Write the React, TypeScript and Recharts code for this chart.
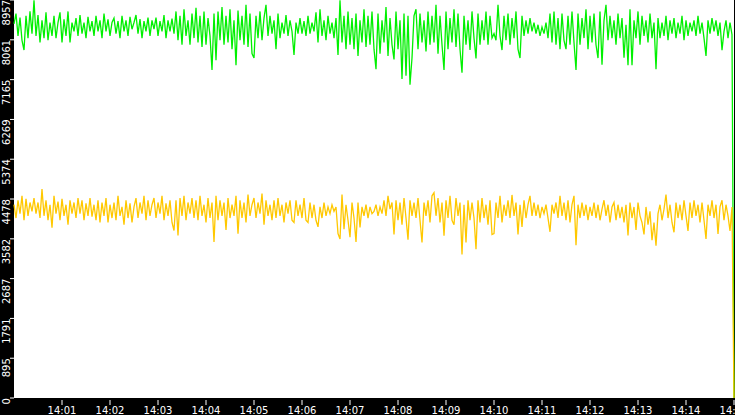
import React from "react";
import { LineChart, Line, XAxis, YAxis, CartesianGrid } from "recharts";

// sampling: one reading every 2.5 s from 14:00:00 to 14:15:00
const STEP_SECONDS = 2.5;

const greenSeries = [
  8420, 8650, 8150, 8560, 8050, 7830, 8600, 8100, 8700, 8200,
  8950, 8150, 8620, 8000, 8500, 8100, 8680, 8050, 8450, 8150,
  8600, 8100, 8450, 8680, 8000, 8520, 8150, 8700, 8000, 8450,
  8250, 8550, 8150, 8620, 8200, 8450, 8100, 8580, 8250, 8480,
  8150, 8600, 8250, 8500, 8100, 8650, 8250, 8520, 8150, 8450,
  8550, 8200, 8480, 8100, 8600, 8250, 8500, 8150, 8580, 8300,
  8450, 8620, 8200, 8530, 8100, 8480, 8250, 8560, 8150, 8500,
  8300, 8560, 8150, 8480, 8250, 8620, 8100, 8500, 8250, 8540,
  8200, 8700, 8050, 8600, 7950, 8750, 8150, 8500, 7950, 8650,
  8100, 8780, 8000, 8600, 7900, 8700, 7950, 8550, 8150, 7380,
  8650, 7600, 8700, 8050, 8800, 7950, 8600, 8000, 8750, 7850,
  8500, 7490, 8720, 8050, 8600, 7950, 8850, 7900, 8650, 7750,
  7650, 8600, 8100, 8700, 8050, 8550, 8850, 8150, 8600, 8200,
  8500, 7850, 8650, 8100, 8450, 8200, 8620, 8150, 8500, 8250,
  7720, 8450, 8200, 8550, 8200, 8480, 8150, 8600, 8200, 8450,
  8250, 8680, 8000, 8750, 8150, 8500, 8050, 8600, 8200, 8450,
  8100, 8550, 7720, 8950, 8000, 8600, 7850, 8700, 7950, 8550,
  7850, 8650, 7700, 8500, 8000, 8750, 7900, 8600, 7950, 8700,
  7850, 7400, 8650, 7750, 8500, 8000, 8800, 7700, 8550, 7950,
  7620, 8700, 7850, 8500, 7180, 8650, 7250, 8600, 7050, 7650,
  8600, 8750, 7850, 8650, 8000, 8500, 7800, 8700, 7950, 8600,
  8000, 8850, 7750, 8600, 7950, 7380, 8700, 7850, 8550, 8000,
  8750, 7900, 8650, 7850, 7320, 8600, 7950, 8500, 7830, 8700,
  8100, 7640, 8650, 7950, 8500, 8050, 8700, 7950, 8600, 8100,
  8200, 8050, 8850, 8150, 7830, 8600, 8050, 8650, 7950, 8550,
  8100, 8700, 7850, 7650, 8600, 8150, 8500, 8200, 8550, 8250,
  8450, 8200, 8400, 8150, 8350, 8200, 8450, 8100, 8650, 8000,
  8700, 7950, 8550, 7850, 8650, 8050, 7850, 8600, 7950, 8700,
  8000, 7380, 8650, 7950, 8550, 8100, 8750, 7850, 8600, 8000,
  8650, 7950, 7650, 8700, 7500, 8500, 8850, 8050, 8600, 8100,
  8500, 7950, 8650, 8100, 8550, 7660, 8400, 7490, 8750, 7490,
  8500, 8100, 8700, 7950, 8600, 8150, 8500, 8000, 8650, 8100,
  8450, 7400, 8550, 8100, 8450, 8150, 8600, 8050, 8500, 8200,
  8550, 8100, 8450, 8200, 8600, 8050, 8500, 8150, 8450, 8250,
  8500, 8150, 8600, 8200, 8450, 8100, 7700, 8500, 8200, 8550,
  8250, 8500, 8150, 8450, 7830, 8250, 8500, 8100, 8450, 8180,
  0,
];

const yellowSeries = [
  4350, 4050, 4450, 4150, 4550, 4000, 4480, 4100, 4400, 4200,
  4500, 4150, 4400, 4050, 4700, 4100, 4450, 4000, 4350, 3830,
  4550, 4150, 4420, 4000, 4480, 4100, 4350, 3900, 4450, 4150,
  4400, 4050, 4500, 4150, 4450, 4000, 4380, 4100, 4500, 4080,
  4350, 4000, 4450, 3950, 4400, 4100, 4500, 3950, 4350, 4050,
  4400, 4000, 4550, 4100, 4300, 3900, 4450, 4050, 4380, 3950,
  4300, 4500, 4050, 4400, 4150, 4550, 4000, 4450, 4100, 4350,
  4500, 4050, 4400, 4150, 4550, 4000, 4380, 4100, 4450, 3950,
  3770, 4450, 3660, 4500, 4100, 4550, 4000, 4400, 4150, 4500,
  4050, 4450, 4000, 4550, 4100, 4350, 3950, 4500, 4050, 4400,
  3510, 4550, 4000, 4450, 4100, 4400, 3780, 4500, 4050, 4350,
  4100, 4550, 3700, 4450, 4050, 4400, 3950, 4580, 4100, 4350,
  4500, 4050, 4400, 4150, 4600, 3900, 4450, 4100, 4350, 4000,
  4450, 4050, 4500, 4100, 4350, 3950, 4400, 4150, 4450, 4000,
  3950, 4450, 4100, 4350, 4050, 4500, 4000, 3950, 4400, 4050,
  4350, 4000, 3850, 4300, 4050, 4400, 4100, 4300, 4150, 4350,
  4200, 4300, 3700, 3580, 4580, 3800, 4350, 4000, 3620, 4400,
  4050, 3510, 4400, 3840, 4300, 4100, 4350, 4050, 4300, 4150,
  4200, 4350, 4100, 4300, 4150, 4450, 4100, 4550, 4250, 4400,
  3680, 4450, 4000, 4400, 3900, 4500, 4050, 3560, 4450, 4100,
  4400, 4050, 4500, 4000, 3500, 4400, 4100, 4450, 3950, 4550,
  4620, 4100, 4500, 3950, 4400, 3650, 4450, 4050, 4550, 4000,
  3900, 4500, 4100, 4400, 3230, 4350, 3500, 4450, 4000, 4400,
  4050, 3350, 4450, 3950, 4500, 4050, 4350, 3900, 4450, 3680,
  3700, 4400, 4050, 4550, 3950, 4350, 4100, 4450, 4050, 4570,
  4100, 4400, 3680, 4350, 3850, 4450, 4050, 4350, 4550, 4100,
  4400, 4100, 4350, 4050, 4300, 4150, 4350, 4050, 3740, 4350,
  4150, 4400, 4050, 4550, 4100, 4400, 4000, 4450, 3950, 4350,
  4550, 3440, 4350, 4050, 4400, 4100, 4350, 4000, 4300, 4100,
  4400, 4050, 4350, 4000, 4250, 4450, 4100, 4350, 3950, 4300,
  4400, 4000, 4350, 4050, 4300, 3950, 4350, 3660, 4400, 4050,
  4300, 3780, 4400, 4100, 3950, 3680, 4300, 3900, 4200, 3550,
  3950, 3430, 4150, 4350, 4000, 4250, 4580, 4050, 4350, 3950,
  3730, 4400, 4050, 4350, 4000, 4450, 4100, 3760, 4400, 4050,
  4450, 4100, 4350, 3950, 4400, 4000, 3580, 4350, 4100, 4450,
  4050, 4350, 3690, 4300, 4450, 4000, 4350, 4100, 3760, 4300,
  0,
];

const yTicks = [0, 895, 1791, 2687, 3582, 4478, 5374, 6269, 7165, 8061, 8957];
const xTickLabels = [
  "14:01", "14:02", "14:03", "14:04", "14:05", "14:06", "14:07",
  "14:08", "14:09", "14:10", "14:11", "14:12", "14:13", "14:14", "14:15",
];
const xTicks = [60, 120, 180, 240, 300, 360, 420, 480, 540, 600, 660, 720, 780, 840, 900];

const rows = greenSeries.map((g, i) => ({
  t: i * STEP_SECONDS,
  green: g,
  yellow: yellowSeries[i],
}));

const FONT = "'DejaVu Sans', sans-serif";

function XTick(props: any) {
  const x = props.payload.coordinate;
  const idx = xTicks.indexOf(props.payload.value);
  return (
    <g>
      <line x1={x} x2={x} y1={400} y2={405} stroke="#fff" strokeWidth={1} />
      <text x={x} y={414} fill="#fff" fontSize={10} fontFamily={FONT} textAnchor="middle">
        {xTickLabels[idx]}
      </text>
    </g>
  );
}

function YTick(props: any) {
  const y = props.payload.coordinate;
  return (
    <g>
      <line x1={10} x2={14} y1={y} y2={y} stroke="#fff" strokeWidth={1} />
      <text
        x={10}
        y={y}
        fill="#fff"
        fontSize={10}
        fontFamily={FONT}
        textAnchor="end"
        transform={`rotate(-90, 10, ${y})`}
      >
        {props.payload.value}
      </text>
    </g>
  );
}

export default function App() {
  return (
    <div style={{ width: 735, height: 415, background: "#000" }}>
      <style>{`body{margin:0}`}</style>
      <LineChart
        width={735}
        height={415}
        data={rows}
        margin={{ top: 0, right: 1, bottom: 0, left: 0 }}
      >
        <CartesianGrid horizontal={false} vertical={false} fill="#ffffff" />
        <XAxis
          dataKey="t"
          type="number"
          domain={[0, 900]}
          ticks={xTicks}
          interval={0}
          height={17}
          axisLine={false}
          tickLine={false}
          tick={<XTick />}
        />
        <YAxis
          type="number"
          domain={[0, 8957]}
          ticks={yTicks}
          interval={0}
          width={14}
          axisLine={false}
          tickLine={false}
          tick={<YTick />}
        />
        <Line
          dataKey="green"
          stroke="#00f000"
          strokeWidth={1.3}
          dot={false}
          isAnimationActive={false}
        />
        <Line
          dataKey="yellow"
          stroke="#ffc800"
          strokeWidth={1.3}
          dot={false}
          isAnimationActive={false}
        />
      </LineChart>
    </div>
  );
}
